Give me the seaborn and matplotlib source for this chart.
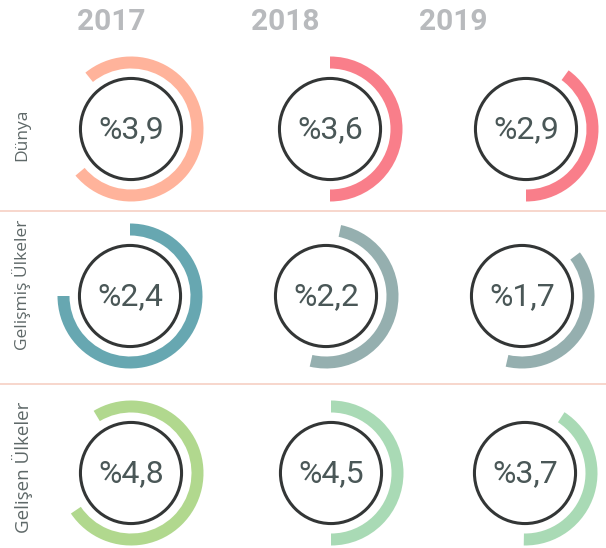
import pandas as pd
import matplotlib
matplotlib.use("Agg")
import matplotlib.pyplot as plt
from matplotlib.patches import Wedge
from matplotlib import font_manager as fm
import seaborn as sns

# ---- datos -----------------------------------------------------------------
yillar = ["2017", "2018", "2019"]
bolgeler = ["Dünya", "Gelişmiş Ülkeler", "Gelişen Ülkeler"]

dunya = [3.9, 3.6, 2.9]
gelismis = [2.4, 2.2, 1.7]
gelisen = [4.8, 4.5, 3.7]

# arco de cada gauge (grados en sentido horario desde las 12)
dunya_arc = [(-39, 230), (0, 180), (36, 180)]
gelismis_arc = [(0, 270), (12, 193), (53, 193)]
gelisen_arc = [(-31, 236), (0, 180), (33, 181)]

colores = [
    ["#ffb39b", "#f97e8a", "#f97e8a"],
    ["#67a7b1", "#95afaf", "#95afaf"],
    ["#b1d88e", "#a9dab5", "#a9dab5"],
]

# ---- layout (px) -----------------------------------------------------------
col_x = [[131, 330, 526], [130, 326, 522], [131, 331, 525]]
fila_y = [129, 296, 473]
anio_x = [111, 285, 453]
etiqueta_y = [135, 285, 467]
etiqueta_tam = [12.5, 12.5, 13.5]

valores = [dunya, gelismis, gelisen]
arcos = [dunya_arc, gelismis_arc, gelisen_arc]

nombres = {f.name for f in fm.fontManager.ttflist}
fuente_anio = "Liberation Sans Narrow" if "Liberation Sans Narrow" in nombres else "Roboto"

sns.set_theme(style="white")
plt.rcParams["font.family"] = ["Roboto", "DejaVu Sans"]

fig = plt.figure(figsize=(6.06, 5.48), dpi=100)
ax = fig.add_axes([0, 0, 1, 1])

filas = []
for i, fila in enumerate(valores):
    for j, v in enumerate(fila):
        filas.append({"x": col_x[i][j], "y": fila_y[i], "valor": v,
                      "bolge": bolgeler[i], "yil": yillar[j]})
df = pd.DataFrame(filas)

# arcos
for i in range(3):
    for j in range(3):
        ini, fin = arcos[i][j]
        ax.add_patch(Wedge((col_x[i][j], fila_y[i]), 72.5, ini - 90, fin - 90,
                           width=12, facecolor=colores[i][j], edgecolor="none"))

# circulos
sns.scatterplot(data=df, x="x", y="y", s=5300, marker="o", facecolor="none",
                edgecolor="#333636", linewidth=2.2, ax=ax, legend=False, zorder=3)
ax.set_xlim(0, 606)
ax.set_ylim(548, 0)
ax.axis("off")

for _, r in df.iterrows():
    txt = "%" + f"{r['valor']:.1f}".replace(".", ",")
    ax.text(r["x"], r["y"] + 1, txt, ha="center", va="center", fontsize=23,
            fontweight="normal", color="#4a5757", family=["Roboto", "DejaVu Sans"])

for j, y in enumerate(yillar):
    ax.text(anio_x[j], 22, y, ha="center", va="center", fontsize=21.5,
            fontweight="bold", color="#b8babd", family=[fuente_anio, "DejaVu Sans"])

for i, b in enumerate(bolgeler):
    ax.text(22, etiqueta_y[i], b, ha="center", va="center", rotation=90,
            fontsize=etiqueta_tam[i], color="#5e6868", family=["Open Sans", "DejaVu Sans"])

for y in [211, 384]:
    ax.plot([0, 606], [y, y], color="#f6cfc3", lw=1.2)

fig.savefig("out.png", dpi=100)
